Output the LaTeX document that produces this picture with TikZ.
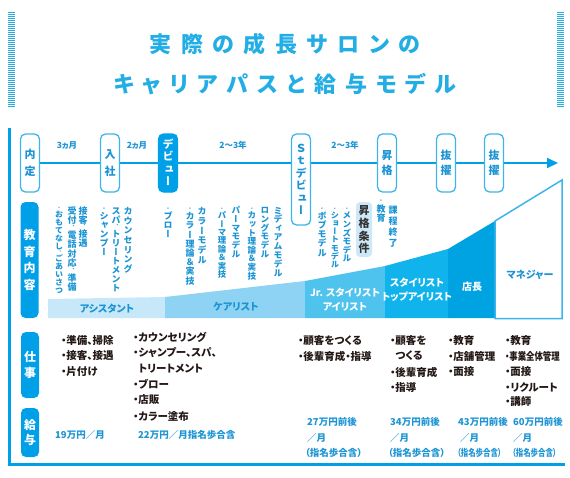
\documentclass[tikz,border=0pt]{standalone}
\usepackage{fontspec}
\setmainfont{Noto Sans CJK JP}[RawFeature=+palt]
\newfontfamily\vjp{Noto Sans CJK JP}[RawFeature=+vert]
\usetikzlibrary{arrows.meta}
\pgfdeclarelayer{background}
\pgfsetlayers{background,main}

\definecolor{mainblue}{HTML}{00A0E9}
\definecolor{titleblue}{HTML}{22AEE5}
\definecolor{txtblue}{HTML}{1C94D4}
\definecolor{boxline}{HTML}{3DB5EA}
\definecolor{bandA}{HTML}{C6E8F8}
\definecolor{bandB}{HTML}{8ED3F3}
\definecolor{bandC}{HTML}{4EC3EE}
\definecolor{bandD}{HTML}{10B3EB}
\definecolor{bandE}{HTML}{00A3E2}
\definecolor{condfill}{HTML}{CDE8F7}
\definecolor{worktxt}{HTML}{231815}

\ExplSyntaxOn
\dim_new:N \l_vt_f_dim
\dim_new:N \l_vt_c_dim
\dim_new:N \l_vt_r_dim
\dim_new:N \l_vt_p_dim
\NewDocumentCommand\vt{O{9pt}m}
  {
    \vbox
      {
        \offinterlineskip
        \dim_set:Nn \l_vt_p_dim {#1}
        \tl_map_inline:nn {#2}
          {
            \tl_if_in:nnTF {、・} {##1}
              {
                \dim_set:Nn \l_vt_f_dim {0.55em}
                \dim_set:Nn \l_vt_c_dim {0.6\l_vt_p_dim}
              }
              {
                \dim_set:Nn \l_vt_f_dim {1em}
                \dim_set:Nn \l_vt_c_dim {\l_vt_p_dim}
              }
            \dim_set:Nn \l_vt_r_dim {(\l_vt_c_dim - \l_vt_f_dim)/2 + 0.12\l_vt_f_dim}
            \hbox_to_wd:nn {1em}
              {
                \hss \rule{0pt}{\l_vt_c_dim}
                \raisebox{\l_vt_r_dim}[0pt][0pt]
                  {\fontsize{\dim_use:N \l_vt_f_dim}{\dim_use:N \l_vt_f_dim}\selectfont ##1}
                \hss
              }
          }
      }
  }
\NewDocumentCommand\spc{mm}
  {
    \tl_map_inline:nn {#2} { ##1 \kern #1 } \kern -#1
  }
\ExplSyntaxOff

\tikzset{
  ms/.style={draw=boxline, line width=1.3pt, fill=white, rounded corners=5pt,
    minimum width=19pt, inner sep=0pt, text=txtblue,
    font=\vjp\bfseries\fontsize{11}{11}\selectfont},
  lab/.style={fill=mainblue, rounded corners=5pt, minimum width=18pt,
    inner sep=0pt, text=white, font=\vjp\bfseries\fontsize{12}{12}\selectfont},
  edu/.style={anchor=north, inner sep=0pt, text=txtblue,
    font=\vjp\bfseries\fontsize{#1}{#1}\selectfont},
  edu/.default=9,
  per/.style={text=txtblue, font=\bfseries\fontsize{8.5}{8.5}\selectfont, inner sep=0pt},
  band/.style={font=\bfseries\fontsize{10}{14}\selectfont, inner sep=0pt, align=center},
  work/.style={anchor=west, inner sep=0pt, text=worktxt,
    font=\bfseries\fontsize{10.5}{10.5}\selectfont},
  sal/.style={anchor=west, inner sep=0pt, text=txtblue,
    font=\bfseries\fontsize{9.5}{9.5}\selectfont},
  ttl/.style={text=titleblue, font=\bfseries\fontsize{22}{22}\selectfont, inner sep=0pt},
  bars/.style={draw=titleblue, line width=6.5pt, dash pattern=on 1pt off 1pt},
  tline/.style={draw=mainblue, line width=2pt, -{Triangle[length=11pt,width=10pt]}},
  frame/.style={draw=mainblue, line width=3pt}
}

\begin{document}
\begin{tikzpicture}[x=1pt,y=-1pt]
\useasboundingbox (0,0) rectangle (570,477);

% title
\coordinate (lb1) at (11.5,12);
\coordinate (lb2) at (11.5,108);
\coordinate (rb1) at (560.5,12);
\coordinate (rb2) at (560.5,108);
\draw[bars] (lb1) -- (lb2);
\draw[bars] (rb1) -- (rb2);
\node[ttl] (t1) at (285,44) {\spc{9.5pt}{実際の成長サロンの}};
\node[ttl] (t2) at (285,84) {\spc{8.8pt}{キャリアパスと給与モデル}};

% frame
\coordinate (ft) at (9.5,128);
\coordinate (fc) at (9.5,464.5);
\coordinate (fe) at (565,464.5);
\draw[frame] (ft) -- (fc) -- (fe);

% milestones
\node[ms, minimum height=58pt] (naitei) at (30,163) {\vt[17pt]{内定}};
\node[ms, minimum height=58pt] (nyusha) at (110,163) {\vt[17pt]{入社}};
\node[ms, minimum height=58pt, fill=mainblue, draw=mainblue, text=white] (debut) at (168,163) {\vt[12.5pt]{デビュー}};
\node[ms, minimum height=91pt] (stdebut) at (301,179.5) {\vt[12.5pt]{Ｓｔデビュー}};
\node[ms, minimum height=58pt] (shokaku) at (387,163) {\vt[15pt]{昇格}};
\node[ms, minimum height=58pt] (bat1) at (446,163) {\vt[15pt]{抜擢}};
\node[ms, minimum height=58pt] (bat2) at (494,163) {\vt[15pt]{抜擢}};
\coordinate (tip) at (558,163);
\begin{pgfonlayer}{background}
\draw[tline] (naitei.east) -- (tip);
\end{pgfonlayer}

\node[per] (p1) at (67,145) {3ヵ月};
\node[per] (p2) at (137,145) {2ヵ月};
\node[per] (p3) at (233,145) {2〜3年};
\node[per] (p4) at (345,145) {2〜3年};

% left labels
\node[lab, minimum height=116pt] (lEdu) at (29.5,260) {\vt[16.8pt]{教育内容}};
\node[lab, minimum height=66pt] (lWork) at (30,365) {\vt[16pt]{仕事}};
\node[lab, minimum height=49pt] (lPay) at (30,432.5) {\vt[15pt]{給与}};

% bands
\fill[bandA] (48,299) -- (165,297) -- (165,318) -- (48,318) -- cycle;
\fill[bandB] (165,297) -- (305,281) -- (305,318) -- (165,318) -- cycle;
\fill[bandC] (305,281) -- (385,266) -- (385,318) -- (305,318) -- cycle;
\fill[bandD] (385,266) -- (448,249) -- (448,318) -- (385,318) -- cycle;
\fill[bandE] (448,249) -- (495,221) -- (495,318) -- (448,318) -- cycle;
\draw[boxline, line width=1.5pt, fill=white] (495,221) -- (562,180) -- (562,318.5) -- (495,318.5) -- cycle;

\node[band, text=txtblue] (bA) at (107,309) {アシスタント};
\node[band, text=txtblue] (bB) at (236,307) {ケアリスト};
\node[band, text=white] (bC) at (345,300) {Jr. スタイリスト\\アイリスト};
\node[band, text=white] (bD) at (417,289.5) {スタイリスト\\トップアイリスト};
\node[band, text=white] (bE) at (472,287) {店長};
\node[band, text=txtblue] (bF) at (530,275) {マネジャー};

% education columns
\node[edu=8] (e1) at (59,205) {\vt[8pt]{・おもてなし、ごあいさつ}};
\node[edu] (e2) at (72,206) {\vt[9.3pt]{受付、電話対応、準備}};
\node[edu] (e3) at (83,206) {\vt[9pt]{接客、接遇}};
\node[edu] (e4) at (104,206) {\vt[9pt]{・シャンプー}};
\node[edu] (e5) at (116,206) {\vt[9pt]{スパ、トリートメント}};
\node[edu] (e6) at (128,206) {\vt[9.7pt]{カウンセリング}};
\node[edu] (e7) at (168,206) {\vt[9pt]{・ブロー}};
\node[edu] (e8) at (190,206) {\vt[9.2pt]{・カラー理論＆実技}};
\node[edu] (e9) at (202,206) {\vt[9.8pt]{カラーモデル}};
\node[edu=8.4] (e10) at (222,206) {\vt[8.4pt]{・パーマ理論＆実技}};
\node[edu=8.7] (e11) at (236,206) {\vt[8.7pt]{パーマモデル}};
\node[edu=8.6] (e12) at (252,206) {\vt[8.6pt]{・カット理論＆実技}};
\node[edu=8.7] (e13) at (265,206) {\vt[8.7pt]{ロングモデル}};
\node[edu=8.9] (e14) at (278,206) {\vt[8.9pt]{ミディアムモデル}};
\node[edu] (e15) at (322,206) {\vt[9.1pt]{・ボブモデル}};
\node[edu=8.2] (e16) at (335,206) {\vt[8.2pt]{・ショートモデル}};
\node[edu=8.6] (e17) at (347,206) {\vt[8.6pt]{・メンズモデル}};
\node[fill=condfill, rounded corners=4pt, minimum width=16pt, minimum height=55pt,
  inner sep=0pt, text=black!80, font=\vjp\bfseries\fontsize{11}{11}\selectfont]
  (cond) at (364,229.5) {\vt[12.7pt]{昇格条件}};
\node[edu] (e18) at (381,198) {\vt[9.6pt]{・教育}};
\node[edu] (e19) at (393,204) {\vt[11pt]{課程終了}};

% work
\node[work] (w11) at (61,341) {・準備、掃除};
\node[work] (w12) at (61,356) {・接客、接遇};
\node[work] (w13) at (61,372) {・片付け};
\node[work] (w21) at (133,337) {・カウンセリング};
\node[work] (w22) at (133,353) {・シャンプー、スパ、};
\node[work] (w23) at (133,369) {\phantom{・}トリートメント};
\node[work] (w24) at (133,384) {・ブロー};
\node[work] (w25) at (133,400) {・店販};
\node[work] (w26) at (133,416) {・カラー塗布};
\node[work] (w31) at (298,341) {・顧客をつくる};
\node[work] (w32) at (298,356) {・後輩育成・指導};
\node[work] (w41) at (390,341) {・顧客を};
\node[work] (w42) at (390,356) {\phantom{・}つくる};
\node[work] (w43) at (390,372) {・後輩育成};
\node[work] (w44) at (390,387) {・指導};
\node[work] (w51) at (448,341) {・教育};
\node[work] (w52) at (448,356) {・店舗管理};
\node[work] (w53) at (448,372) {・面接};
\node[work] (w61) at (505,341) {・教育};
\node[work, xscale=0.8] (w62) at (505,356) {・事業全体管理};
\node[work] (w63) at (505,372) {・面接};
\node[work] (w64) at (505,387) {・リクルート};
\node[work] (w65) at (505,402) {・講師};

% salaries
\node[sal] (s1) at (55,435) {19万円／月};
\node[sal] (s2) at (138,435) {22万円／月指名歩合含};
\node[sal] (s3a) at (307,422) {27万円前後};
\node[sal] (s3b) at (307,438) {／月};
\node[sal] (s3c) at (305,453) {（指名歩合含）};
\node[sal] (s4a) at (390,422) {34万円前後};
\node[sal] (s4b) at (390,438) {／月};
\node[sal] (s4c) at (388,453) {（指名歩合含）};
\node[sal] (s5a) at (458,422) {43万円前後};
\node[sal] (s5b) at (460,438) {／月};
\node[sal, xscale=0.78] (s5c) at (457,453) {（指名歩合含）};
\node[sal] (s6a) at (513,422) {60万円前後};
\node[sal] (s6b) at (513,438) {／月};
\node[sal, xscale=0.78] (s6c) at (512,453) {（指名歩合含）};
\end{tikzpicture}
\end{document}
